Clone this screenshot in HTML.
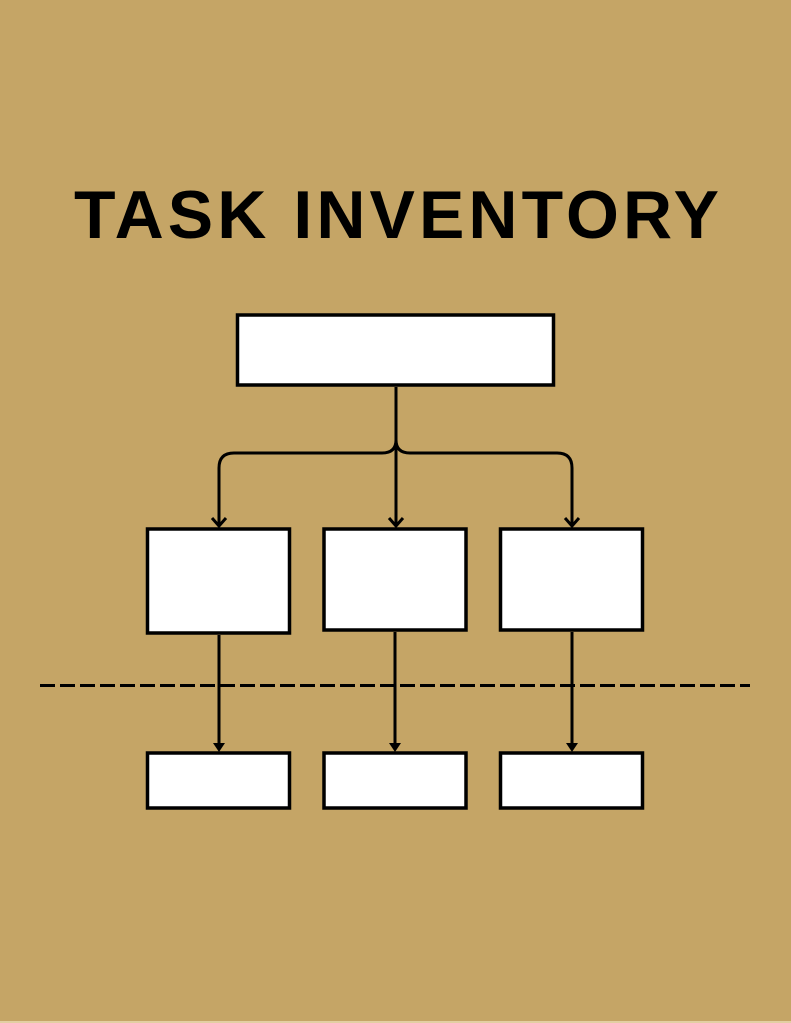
<!DOCTYPE html>
<html><head><meta charset="utf-8"><style>
html,body{margin:0;padding:0;background:#c5a566;}
svg{display:block;}
</style></head><body>
<svg width="791" height="1023" viewBox="0 0 791 1023" xmlns="http://www.w3.org/2000/svg">
<rect x="0" y="0" width="791" height="1023" fill="#c5a566"/>
<rect x="0" y="1021" width="791" height="2" fill="#e2cfa2"/>
<text x="74" y="238" font-family="Liberation Sans, Arial, sans-serif" font-weight="bold" font-size="68" textLength="645" lengthAdjust="spacing" fill="#000">TASK INVENTORY</text>
<g fill="#fff" stroke="#000" stroke-width="3.5">
<rect x="237.5" y="315" width="316" height="70"/>
<rect x="147.5" y="529" width="142" height="104"/>
<rect x="324" y="529" width="142" height="101"/>
<rect x="500.5" y="529" width="142" height="101"/>
<rect x="147.5" y="753" width="142" height="55"/>
<rect x="324" y="753" width="142" height="55"/>
<rect x="500.5" y="753" width="142" height="55"/>
</g>
<g fill="none" stroke="#000" stroke-width="3">
<path d="M396 387 V526"/>
<path d="M396 440 Q396 453 382 453 H234 Q219 453 219 468 V526"/>
<path d="M396 440 Q396 453 410 453 H557 Q572 453 572 468 V526"/>
<path d="M212 518 L219 526 L226 518"/>
<path d="M389 518 L396 526 L403 518"/>
<path d="M565 518 L572 526 L579 518"/>
<path d="M219 635 V745"/>
<path d="M395 632 V745"/>
<path d="M572 632 V745"/>
</g>
<line x1="40" y1="685.5" x2="750" y2="685.5" stroke="#000" stroke-width="3" stroke-dasharray="15 5"/>
<g fill="#000">
<path d="M213 743 L225 743 L219 752 Z"/>
<path d="M389 743 L401 743 L395 752 Z"/>
<path d="M566 743 L578 743 L572 752 Z"/>
</g>
</svg>
</body></html>
